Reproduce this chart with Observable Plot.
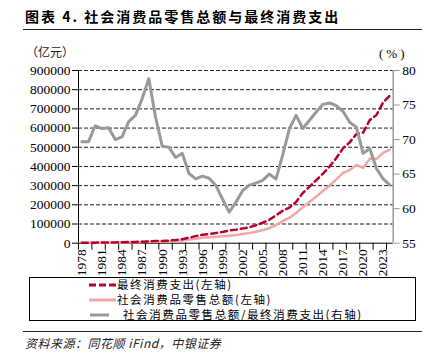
<!DOCTYPE html>
<html><head><meta charset="utf-8">
<script src="https://cdn.jsdelivr.net/npm/d3@7"></script>
<script src="https://cdn.jsdelivr.net/npm/@observablehq/plot@0.6"></script>
<style>
body{margin:0;background:#fff;width:435px;height:361px;position:relative;overflow:hidden;font-family:"Noto Sans CJK SC",sans-serif;color:#000;}
.abs{position:absolute;white-space:nowrap;}
.lg{position:absolute;white-space:nowrap;font-size:11.5px;letter-spacing:1.6px;line-height:13px;}
#chart svg text{font-family:"Liberation Serif","Times New Roman","DejaVu Serif",serif !important;}
</style></head><body>
<div class="abs" style="left:25px;top:6px;font-size:14px;font-weight:bold;letter-spacing:2px;">图表 4. 社会消费品零售总额与最终消费支出</div>
<div class="abs" style="left:23px;top:29px;width:399px;height:1px;background:#222"></div>
<div class="abs" style="left:26px;top:43px;font-size:12px;color:#222">（亿元）</div>
<div class="abs" style="left:379px;top:47px;font-size:13px;line-height:14px;font-family:'Liberation Serif','Times New Roman',serif;letter-spacing:3px">(%)</div>
<div id="chart" class="abs" style="left:0;top:40px"></div>
<div class="abs" style="left:29px;top:277px;width:387px;height:44px;border:1px solid #000;box-sizing:border-box">
  <svg class="abs" style="left:58px;top:5px" width="30" height="4"><line x1="1" x2="28" y1="2" y2="2" stroke="#b8002e" stroke-width="3" stroke-dasharray="7,3"/></svg>
  <div class="lg" style="left:87px;top:0px">最终消费支出(左轴)</div>
  <svg class="abs" style="left:58px;top:20px" width="30" height="4"><line x1="1" x2="28" y1="2" y2="2" stroke="#f2a7a7" stroke-width="3"/></svg>
  <div class="lg" style="left:87px;top:15px">社会消费品零售总额(左轴)</div>
  <svg class="abs" style="left:58px;top:35px" width="30" height="4"><line x1="2" x2="21" y1="2" y2="2" stroke="#9a9a9a" stroke-width="3"/></svg>
  <div class="lg" style="left:93px;top:30px">社会消费品零售总额/最终消费支出(右轴)</div>
</div>
<div class="abs" style="left:23px;top:331px;width:399px;height:1px;background:#222"></div>
<div class="abs" style="left:25px;top:334px;font-size:12px;font-style:italic;letter-spacing:0.5px;color:#222">资料来源：同花顺 iFind，中银证券</div>
<script>
const years = [1978,1979,1980,1981,1982,1983,1984,1985,1986,1987,1988,1989,1990,1991,1992,1993,1994,1995,1996,1997,1998,1999,2000,2001,2002,2003,2004,2005,2006,2007,2008,2009,2010,2011,2012,2013,2014,2015,2016,2017,2018,2019,2020,2021,2022,2023,2024];
// 社会消费品零售总额 (亿元)
const retail = [1559,1800,2140,2350,2570,2849,3376,4305,4950,5820,7440,8101,8300,9416,10994,14270,18623,23614,28360,31253,33378,35648,39106,43055,48136,52516,59501,68353,79145,93572,114830,133048,158008,187206,214433,242843,271896,300931,332316,366262,380987,408017,391981,440823,439733,471495,487895];
// 最终消费支出 (亿元)
const finalCons = [2236,2582,2972,3282,3584,4071,4796,5930,6735,7668,9442,11052,12020,13666,16311,20986,28607,36724,43833,48529,52647,58059,65724,70698,76894,82833,93408,106634,121762,145524,169366,185822,214977,261461,294550,328166,362045,399643,443680,494280,525500,568269,576442,641664,668286,733274,769550];
// 社会消费品零售总额/最终消费支出 (%)
const ratio = [69.7,69.7,72.0,71.6,71.7,70.0,70.4,72.6,73.5,75.9,78.8,73.3,69.05,68.9,67.4,68.0,65.1,64.3,64.7,64.4,63.4,61.4,59.5,60.9,62.6,63.4,63.7,64.1,65.0,64.3,67.8,71.6,73.5,71.6,72.8,74.0,75.1,75.3,74.9,74.1,72.5,71.8,68.0,68.7,65.8,64.3,63.4];
const leftTicks = [0,100000,200000,300000,400000,500000,600000,700000,800000,900000];
const rightTicks = [55,60,65,70,75,80];
const labelYears = [1978,1981,1984,1987,1990,1993,1996,1999,2002,2005,2008,2011,2014,2017,2020,2023];
const edgeTicks = [1977.5,1979.5,1981.5,1983.5,1985.5,1987.5,1989.5,1991.5,1993.5,1995.5,1997.5,1999.5,2001.5,2003.5,2005.5,2007.5,2009.5,2011.5,2013.5,2015.5,2017.5,2019.5,2021.5,2023.5];

const yMax = 900000, rMin = 55, rMax = 80;
const toLeft = p => (p - rMin) / (rMax - rMin) * yMax;
const data = years.map((y, i) => ({year: y, retail: retail[i], fin: finalCons[i], ratio: toLeft(ratio[i])}));

const chart = Plot.plot({
  width: 435, height: 240,
  marginTop: 30, marginBottom: 37.3, marginLeft: 78, marginRight: 42.3,
  x: {type: "linear", domain: [1977.5, 2024.5]},
  y: {domain: [0, yMax]},
  style: {fontFamily: "'Liberation Serif', 'Times New Roman', serif", fontSize: "13.5px", color: "#000", background: "transparent"},
  marks: [
    Plot.gridY(leftTicks.filter(d => d > 0), {stroke: "#222", strokeOpacity: 1, strokeDasharray: "4,2"}),
    Plot.axisY(leftTicks, {tickSize: 6, tickPadding: 2, tickFormat: d => String(d), label: null}),
    Plot.axisY(rightTicks.map(toLeft), {anchor: "right", tickSize: 6, tickPadding: 3, stroke: "#999", tickFormat: d => String(Math.round(d / yMax * (rMax - rMin) + rMin)), label: null}),
    Plot.axisX(edgeTicks, {tickSize: 7, tickFormat: () => "", label: null}),
    Plot.axisX(labelYears, {tickSize: 0, tickPadding: 6, tickRotate: -90, tickFormat: d => String(d), label: null}),
    Plot.ruleY([0], {stroke: "#000"}),
    Plot.ruleX([1977.5], {stroke: "#000"}),
    Plot.ruleX([2024.5], {stroke: "#999", strokeWidth: 1.5}),
    Plot.line(data, {x: "year", y: "retail", stroke: "#f2a7a7", strokeWidth: 2.5}),
    Plot.line(data, {x: "year", y: "fin", stroke: "#b8002e", strokeWidth: 2.5, strokeDasharray: "6,4"}),
    Plot.line(data, {x: "year", y: "ratio", stroke: "#9a9a9a", strokeWidth: 3})
  ]
});
document.getElementById("chart").appendChild(chart);
</script>
</body></html>
